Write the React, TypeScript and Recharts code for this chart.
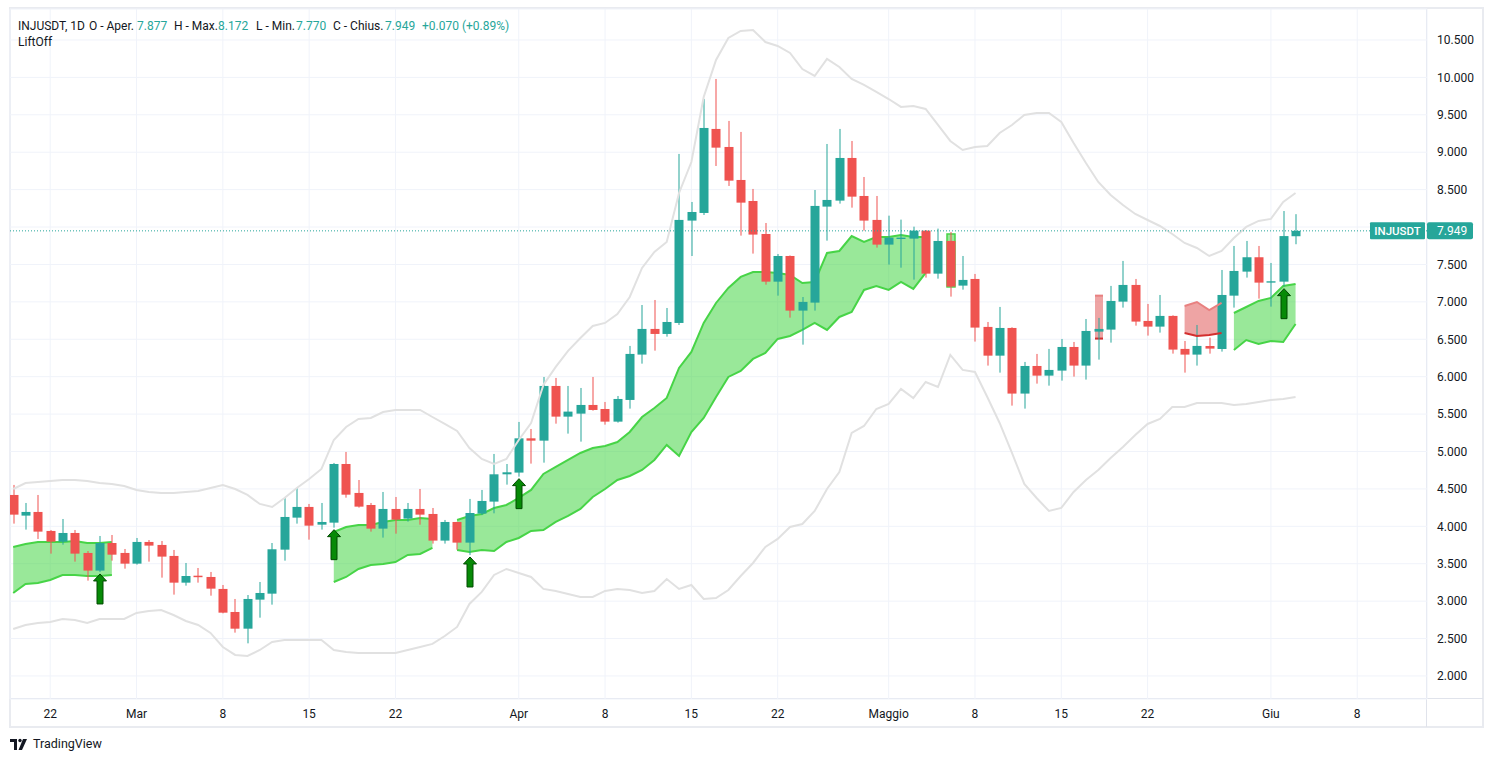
import {
  ComposedChart,
  Area,
  Line,
  Bar,
  XAxis,
  YAxis,
  CartesianGrid,
  ReferenceLine,
} from 'recharts';

// INJUSDT daily candles, 19 Feb -> 3 Jun
const opens = [
  4.419, 4.143, 4.192, 3.938, 3.795, 3.911, 3.644, 3.408, 3.777, 3.644,
  3.501, 3.791, 3.751, 3.604, 3.247, 3.34, 3.323, 3.163, 2.855, 2.632,
  3.02, 3.1, 3.688, 4.116, 4.259, 4.022, 4.049, 4.833, 4.446, 4.285,
  3.969, 4.232, 4.103, 4.232, 4.165, 3.809, 4.058, 3.782, 4.17, 4.33,
  4.695, 4.718, 5.176, 5.145, 5.876, 5.466, 5.506, 5.622, 5.568, 5.399,
  5.689, 6.295, 6.638, 6.571, 6.718, 8.086, 8.188, 9.311, 9.07, 8.629,
  8.348, 7.907, 7.27, 7.613, 6.883, 6.99, 8.273, 8.353, 8.923, 8.415,
  8.095, 7.765, 7.84, 7.845, 7.952, 7.377, 7.814, 7.217, 7.306, 6.665,
  6.281, 6.651, 5.774, 6.143, 6.014, 6.081, 6.397, 6.148, 6.602, 6.629,
  7.003, 7.226, 6.745, 6.669, 6.812, 6.371, 6.295, 6.41, 6.37, 7.083,
  7.404, 7.596, 7.257, 7.27, 7.877,
];
const highs = [
  4.553, 4.312, 4.419, 3.951, 4.098, 3.951, 3.67, 3.871, 3.884, 3.697,
  3.844, 3.817, 3.804, 3.684, 3.51, 3.443, 3.39, 3.216, 3.029, 3.082,
  3.256, 3.777, 4.379, 4.513, 4.299, 4.312, 4.847, 4.994, 4.619, 4.312,
  4.459, 4.392, 4.312, 4.499, 4.245, 4.085, 4.06, 4.366, 4.486, 4.967,
  4.833, 5.395, 5.301, 5.996, 5.983, 5.876, 5.849, 5.996, 5.662, 5.742,
  6.411, 6.958, 7.025, 6.918, 8.977, 8.335, 9.712, 9.979, 9.418, 9.271,
  8.509, 8.054, 7.64, 7.62, 7.065, 8.495, 9.11, 9.311, 9.15, 8.669,
  8.415, 8.152, 8.099, 8.005, 7.96, 7.979, 7.934, 7.613, 7.373, 6.731,
  6.932, 6.66, 6.197, 6.304, 6.371, 6.504, 6.464, 6.771, 6.785, 7.213,
  7.547, 7.306, 6.972, 7.092, 6.82, 6.477, 6.691, 6.522, 7.426, 7.747,
  7.814, 7.747, 7.52, 8.214, 8.172,
];
const lows = [
  4.036, 3.956, 3.831, 3.635, 3.755, 3.528, 3.274, 3.39, 3.541, 3.434,
  3.488, 3.528, 3.314, 3.087, 3.207, 3.247, 3.073, 2.837, 2.579, 2.436,
  2.779, 2.953, 3.541, 4.036, 3.822, 3.956, 3.982, 4.383, 4.25, 3.929,
  3.849, 3.902, 4.063, 4.022, 3.769, 3.769, 3.688, 3.617, 4.15, 4.174,
  4.557, 4.664, 4.838, 4.851, 5.372, 5.239, 5.132, 5.546, 5.359, 5.386,
  5.573, 6.174, 6.348, 6.535, 6.691, 7.613, 8.161, 8.816, 8.549, 7.885,
  7.645, 7.23, 7.083, 6.789, 6.428, 6.883, 7.818, 8.313, 8.259, 7.952,
  7.725, 7.498, 7.457, 7.297, 7.324, 7.31, 7.07, 7.163, 6.469, 6.148,
  6.054, 5.613, 5.573, 5.907, 5.88, 5.947, 6.001, 5.961, 6.228, 6.455,
  6.923, 6.682, 6.549, 6.589, 6.308, 6.054, 6.148, 6.308, 6.335, 6.923,
  7.324, 7.043, 6.936, 7.203, 7.77,
];
const closes = [
  4.156, 4.192, 3.929, 3.795, 3.911, 3.635, 3.408, 3.777, 3.621, 3.501,
  3.791, 3.742, 3.595, 3.247, 3.336, 3.32, 3.167, 2.846, 2.632, 3.029,
  3.109, 3.693, 4.125, 4.259, 4.009, 4.058, 4.833, 4.423, 4.263, 3.969,
  4.232, 4.089, 4.232, 4.156, 3.809, 4.058, 3.782, 4.178, 4.339, 4.695,
  4.722, 5.176, 5.145, 5.876, 5.466, 5.533, 5.622, 5.555, 5.399, 5.702,
  6.304, 6.638, 6.571, 6.731, 8.095, 8.201, 9.324, 9.061, 8.62, 8.326,
  7.899, 7.27, 7.613, 6.883, 6.999, 8.282, 8.362, 8.923, 8.406, 8.086,
  7.765, 7.858, 7.858, 7.952, 7.377, 7.814, 7.204, 7.293, 6.656, 6.281,
  6.651, 5.774, 6.143, 6.014, 6.09, 6.397, 6.148, 6.611, 6.638, 7.012,
  7.226, 6.736, 6.669, 6.812, 6.362, 6.295, 6.411, 6.375, 7.092, 7.413,
  7.596, 7.257, 7.275, 7.879, 7.949,
];

// grey envelope
const bandUpper = [
  4.499, 4.579, 4.593, 4.606, 4.619, 4.619, 4.606, 4.579, 4.566, 4.539,
  4.486, 4.459, 4.446, 4.446, 4.459, 4.472, 4.512, 4.553, 4.499, 4.419,
  4.299, 4.258, 4.379, 4.512, 4.633, 4.766, 5.154, 5.328, 5.435, 5.448,
  5.528, 5.555, 5.555, 5.555, 5.461, 5.368, 5.274, 5.047, 4.9, 4.833,
  4.9, 5.154, 5.381, 5.889, 6.13, 6.344, 6.517, 6.678, 6.718, 6.838,
  7.065, 7.453, 7.667, 7.8, 8.455, 8.869, 9.738, 10.233, 10.527, 10.62,
  10.634, 10.473, 10.42, 10.326, 10.112, 10.019, 10.246, 10.139, 9.979, 9.899,
  9.805, 9.711, 9.605, 9.618, 9.578, 9.364, 9.15, 9.03, 9.07, 9.083,
  9.257, 9.364, 9.498, 9.524, 9.524, 9.404, 9.123, 8.856, 8.602, 8.428,
  8.295, 8.174, 8.094, 8.014, 7.907, 7.787, 7.72, 7.613, 7.68, 7.854,
  8.001, 8.081, 8.108, 8.335, 8.455,
];
const bandLower = [
  2.628, 2.681, 2.708, 2.722, 2.762, 2.749, 2.708, 2.762, 2.762, 2.762,
  2.842, 2.869, 2.882, 2.815, 2.735, 2.681, 2.575, 2.387, 2.281, 2.268,
  2.347, 2.454, 2.481, 2.481, 2.481, 2.481, 2.347, 2.321, 2.308, 2.308,
  2.308, 2.308, 2.347, 2.387, 2.428, 2.534, 2.655, 2.962, 3.123, 3.35,
  3.43, 3.377, 3.323, 3.163, 3.136, 3.096, 3.056, 3.056, 3.136, 3.163,
  3.149, 3.109, 3.136, 3.296, 3.163, 3.216, 3.029, 3.042, 3.149, 3.336,
  3.51, 3.724, 3.831, 3.991, 4.031, 4.205, 4.499, 4.726, 5.248, 5.341,
  5.568, 5.635, 5.836, 5.715, 5.929, 5.862, 6.29, 6.09, 6.063, 5.729,
  5.381, 4.98, 4.566, 4.379, 4.205, 4.245, 4.459, 4.619, 4.753, 4.913,
  5.06, 5.221, 5.368, 5.435, 5.595, 5.595, 5.649, 5.649, 5.649, 5.622,
  5.635, 5.662, 5.689, 5.702, 5.729,
];

// LiftOff cloud (green = bullish, red = bearish), null where not plotted
const gap = (n: number) => Array(n).fill(null);
const liftTop = [
  3.724, 3.764, 3.791, 3.791, 3.791, 3.804, 3.777, 3.777, 3.791,
  ...gap(17),
  3.924, 3.991, 4.018, 4.018, 4.058, 4.085, 4.085, 4.112, 4.098,
  null,
  4.085, 4.138, 4.165, 4.245, 4.285, 4.379, 4.486, 4.7, 4.793, 4.887,
  4.98, 5.047, 5.074, 5.127, 5.261, 5.461, 5.582, 5.715, 6.116, 6.33,
  6.718, 6.985, 7.186, 7.333, 7.399, 7.399, 7.386, 7.359, 7.252, 7.266,
  7.653, 7.68, 7.88, 7.8, 7.867, 7.867, 7.894, 7.867, 7.867,
  null,
  7.907,
  ...gap(22),
  6.851, 6.931, 7.012, 7.052, 7.212, 7.239,
];
const liftBottom = [
  3.109, 3.229, 3.243, 3.283, 3.349, 3.349, 3.336, 3.336, 3.349,
  ...gap(17),
  3.256, 3.323, 3.43, 3.483, 3.497, 3.523, 3.617, 3.63, 3.711,
  null,
  3.684, 3.657, 3.684, 3.67, 3.791, 3.844, 3.938, 3.951, 4.058, 4.138,
  4.232, 4.392, 4.499, 4.619, 4.673, 4.753, 4.887, 5.087, 4.94, 5.261,
  5.448, 5.729, 5.996, 6.076, 6.237, 6.317, 6.504, 6.544, 6.624, 6.718,
  6.624, 6.798, 6.865, 7.159, 7.212, 7.159, 7.266, 7.172, 7.386,
  null,
  7.199,
  ...gap(22),
  6.357, 6.49, 6.437, 6.477, 6.464, 6.704,
];
const dropTop = [...gap(88), 7.083, ...gap(6), 6.945, 6.998, 6.891, 6.985, ...gap(6)];
const dropBottom = [...gap(88), 6.509, ...gap(6), 6.584, 6.544, 6.557, 6.584, ...gap(6)];

const signalBars = [7, 26, 37, 41, 103];

const xTicks = [3, 10, 17, 24, 31, 41, 48, 55, 62, 71, 78, 85, 92, 102, 109];
const xLabels = ['22', 'Mar', '8', '15', '22', 'Apr', '8', '15', '22', 'Maggio', '8', '15', '22', 'Giu', '8'];
const yTicks = [2, 2.5, 3, 3.5, 4, 4.5, 5, 5.5, 6, 6.5, 7, 7.5, 8, 8.5, 9, 9.5, 10, 10.5];

const UP = '#26a69a';
const DOWN = '#ef5350';
const FONT = 'Roboto, "Liberation Sans", Arial, sans-serif';

const isLone = (arr: (number | null)[], i: number) =>
  arr[i] != null && arr[i - 1] == null && arr[i + 1] == null;

const rows = opens.map((o, i) => ({
  i,
  o,
  h: highs[i],
  l: lows[i],
  c: closes[i],
  up: bandUpper[i],
  lo: bandLower[i],
  gT: liftTop[i],
  gB: liftBottom[i],
  rT: dropTop[i],
  rB: dropBottom[i],
  gLone: isLone(liftTop, i),
  rLone: isLone(dropTop, i),
  arrow: signalBars.includes(i),
}));

const last = rows[rows.length - 1];
const prevClose = closes[closes.length - 2];
const chg = last.c - prevClose;
const chgPct = (chg / prevClose) * 100;

function Candle(props: any) {
  const { x, width, payload } = props;
  let { y, height } = props;
  if (!payload || height == null) return null;
  if (height < 0) {
    y += height;
    height = -height;
  }
  const { o, h, l, c } = payload;
  const k = height / (h - l || 1);
  const py = (v: number) => y + (h - v) * k;
  const cx = Math.round(x + width / 2);
  const col = c >= o ? UP : DOWN;
  const top = py(Math.max(o, c));
  const bh = Math.max(1, py(Math.min(o, c)) - top);
  const tip = py(l) + 2;

  return (
    <g>
      {payload.gLone && (
        <rect x={cx - 4} y={py(payload.gT)} width={8} height={py(payload.gB) - py(payload.gT)}
          fill="rgba(52,209,52,0.5)" stroke="#47d447" strokeWidth={1.5} />
      )}
      {payload.rLone && (
        <g>
          <rect x={cx - 4} y={py(payload.rT)} width={8} height={py(payload.rB) - py(payload.rT)}
            fill="rgba(229,115,115,0.65)" />
          <rect x={cx - 4} y={py(payload.rT) - 1} width={8} height={2} fill="#e88080" />
          <rect x={cx - 4} y={py(payload.rB) - 1} width={8} height={2} fill="#d32f2f" />
        </g>
      )}
      <rect x={cx - 0.5} y={py(h)} width={1} height={py(l) - py(h)} fill={col} />
      <rect x={cx - 4.5} y={top} width={9} height={bh} fill={col} />
      {payload.arrow && (
        <polygon
          points={`${cx},${tip} ${cx + 6.5},${tip + 7} ${cx + 3},${tip + 7} ${cx + 3},${tip + 30} ${cx - 3},${tip + 30} ${cx - 3},${tip + 7} ${cx - 6.5},${tip + 7}`}
          fill="#078a07"
          stroke="#014a01"
          strokeWidth={1}
        />
      )}
    </g>
  );
}

// price-axis labels; the one hidden under the last-price tag is skipped
function PriceTick(props: any) {
  const { x, y, payload } = props;
  if (!payload || Math.abs(payload.value - last.c) < 0.15) return null;
  return (
    <text x={x} y={y} dy="0.355em" textAnchor="start" fill="#131722" fontSize={12} fontFamily={FONT}>
      {Number(payload.value).toFixed(3)}
    </text>
  );
}

function PriceTag(props: any) {
  const vb = props.viewBox;
  if (!vb) return null;
  const right = vb.x + vb.width;
  const yy = vb.y;
  return (
    <g>
      <rect x={right - 57} y={yy - 8.5} width={55} height={17} rx={1} fill={UP} />
      <text x={right - 29.5} y={yy + 4} textAnchor="middle" fill="#fff" fontSize={11.5} fontFamily={FONT} fontWeight={500}>
        INJUSDT
      </text>
      <rect x={right} y={yy - 8.5} width={46} height={17} rx={2} fill={UP} />
      <text x={right + 10} y={yy + 4.3} fill="#fff" fontSize={12} fontFamily={FONT}>
        {last.c.toFixed(3)}
      </text>
    </g>
  );
}

const legendItems = [
  { x: 18, t: 'INJUSDT, 1D', v: false },
  { x: 89, t: 'O - Aper.', v: false },
  { x: 137, t: last.o.toFixed(3), v: true },
  { x: 174, t: 'H - Max.', v: false },
  { x: 218, t: last.h.toFixed(3), v: true },
  { x: 256, t: 'L - Min.', v: false },
  { x: 296, t: last.l.toFixed(3), v: true },
  { x: 333, t: 'C - Chius.', v: false },
  { x: 385, t: last.c.toFixed(3), v: true },
  { x: 422, t: `+${chg.toFixed(3)} (+${chgPct.toFixed(2)}%)`, v: true },
];

export default function App() {
  return (
    <div style={{ position: 'absolute', left: 0, top: 0, width: 1493, height: 762, background: '#fff', fontFamily: FONT }}>
      <div style={{ position: 'absolute', left: 9, top: 7, width: 1475, height: 721, border: '2px solid #e9ebf0', boxSizing: 'border-box' }} />
      <div style={{ position: 'absolute', left: 10, top: 698, width: 1473, height: 1, background: '#e0e3eb' }} />
      <div style={{ position: 'absolute', left: 1426, top: 9, width: 1, height: 718, background: '#e0e3eb' }} />
      <div style={{ position: 'absolute', left: 0, top: 0 }}>
        <ComposedChart width={1493} height={762} data={rows} margin={{ top: 9, left: 10, right: 11, bottom: 35 }}>
          <CartesianGrid stroke="#f0f3fa" strokeWidth={1} />
          <XAxis
            dataKey="i"
            type="number"
            domain={[-0.26, 114.66]}
            ticks={xTicks}
            interval={0}
            allowDataOverflow
            tickFormatter={(v) => xLabels[xTicks.indexOf(v)] ?? ''}
            axisLine={false}
            tickLine={false}
            tickMargin={4}
            height={28}
            tick={{ fill: '#131722', fontSize: 12, fontFamily: FONT }}
          />
          <YAxis
            orientation="right"
            type="number"
            domain={[1.692, 10.914]}
            ticks={yTicks}
            interval={0}
            allowDataOverflow
            axisLine={false}
            tickLine={false}
            tickMargin={4}
            width={55}
            tick={<PriceTick />}
          />
          <Area
            type="linear"
            dataKey={(d: any) => (d.gT == null ? null : [d.gB, d.gT])}
            stroke="#47d447"
            strokeWidth={2}
            fill="#34d134"
            fillOpacity={0.5}
            isAnimationActive={false}
            dot={false}
            activeDot={false}
          />
          <Area
            type="linear"
            dataKey={(d: any) => (d.rT == null ? null : [d.rB, d.rT])}
            stroke="none"
            fill="#e57373"
            fillOpacity={0.65}
            isAnimationActive={false}
            dot={false}
            activeDot={false}
          />
          <Line type="linear" dataKey="rT" stroke="#e88080" strokeWidth={2} dot={false} activeDot={false} isAnimationActive={false} />
          <Line type="linear" dataKey="rB" stroke="#d32f2f" strokeWidth={2} dot={false} activeDot={false} isAnimationActive={false} />
          <Line type="linear" dataKey="up" stroke="#e1e1e1" strokeWidth={2} dot={false} activeDot={false} isAnimationActive={false} />
          <Line type="linear" dataKey="lo" stroke="#e1e1e1" strokeWidth={2} dot={false} activeDot={false} isAnimationActive={false} />
          <Bar
            dataKey={(d: any) => [d.l, d.h]}
            barSize={9}
            shape={<Candle />}
            isAnimationActive={false}
          />
          <ReferenceLine
            y={last.c}
            stroke={UP}
            strokeWidth={1}
            strokeDasharray="1 2"
            label={(p: any) => <PriceTag {...p} />}
          />
        </ComposedChart>
      </div>
      {legendItems.map((it) => (
        <span
          key={it.x}
          style={{ position: 'absolute', left: it.x, top: 18, fontSize: 12, lineHeight: '16px', color: it.v ? UP : '#131722', whiteSpace: 'nowrap' }}
        >
          {it.t}
        </span>
      ))}
      <span style={{ position: 'absolute', left: 18, top: 34, fontSize: 12, lineHeight: '16px', color: '#131722' }}>LiftOff</span>
      <svg style={{ position: 'absolute', left: 0, top: 730 }} width={40} height={30}>
        <rect x={10} y={9} width={7} height={3} fill="#131722" />
        <rect x={14} y={9} width={3} height={11} fill="#131722" />
        <circle cx={20} cy={10.5} r={1.7} fill="#131722" />
        <polygon points="23,9 27,9 22,20 18.5,20" fill="#131722" />
      </svg>
      <span style={{ position: 'absolute', left: 33, top: 736, fontSize: 12.5, lineHeight: '16px', color: '#131722' }}>TradingView</span>
    </div>
  );
}
